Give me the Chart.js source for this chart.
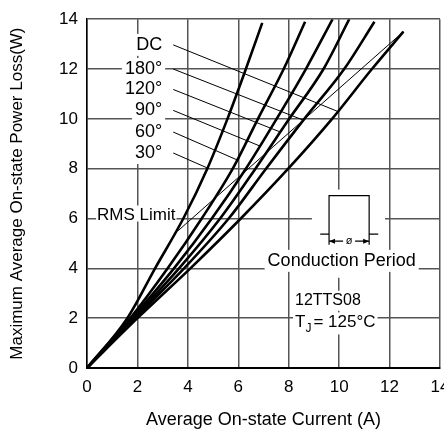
<!DOCTYPE html>
<html>
<head>
<meta charset="utf-8">
<script src="https://cdn.jsdelivr.net/npm/chart.js@4.4.0/dist/chart.umd.min.js"></script>
<style>
  html, body { margin: 0; padding: 0; background: #fff; }
  #wrap { width: 444px; height: 435px; }
</style>
</head>
<body>
<div id="wrap"><canvas id="lossChart" width="444" height="435"></canvas></div>
<script>
// curves: average current (A) -> power loss (W)
const curveNames = ['30°', '60°', '90°', '120°', '180°', 'DC'];

const current30  = [0, 1.6, 2.7, 3.82, 4.77, 5.57, 6.3, 6.95];
const loss30     = [0, 2, 4, 6, 8, 10, 12, 13.85];
const current60  = [0, 1.72, 3.2, 4.55, 5.78, 6.78, 7.8, 8.65];
const loss60     = [0, 2, 4, 6, 8, 10, 12, 13.9];
const current90  = [0, 1.78, 3.45, 4.95, 6.3, 7.52, 8.68, 9.74];
const loss90     = [0, 2, 4, 6, 8, 10, 12, 14];
const current120 = [0, 1.84, 3.65, 5.28, 6.68, 8.02, 9.38, 10.4];
const loss120    = [0, 2, 4, 6, 8, 10, 12, 14];
const current180 = [0, 1.9, 3.85, 5.62, 7.1, 8.62, 10.2, 11.4];
const loss180    = [0, 2, 4, 6, 8, 10, 12, 13.9];
const currentDC  = [0, 2.0, 4.1, 6.1, 7.98, 9.72, 11.3, 12.55];
const lossDC     = [0, 2, 4, 6, 8, 10, 12, 13.5];

// RMS limit line
const currentRms = [3.6, 12.55];
const lossRms    = [5.5, 13.5];

// leader lines: label level -> point on the curve (same order as curveNames)
const labelLoss        = [8.63, 9.47, 10.34, 11.18, 12.0, 12.97];
const leaderEndCurrent = [4.77, 5.96, 6.88, 7.67, 8.6, 9.94];
const leaderEndLoss    = [8.03, 8.35, 8.9, 9.47, 9.94, 10.3];

// ticks
const xTicks = [0, 2, 4, 6, 8, 10, 12, 14];
const yTicks = [0, 2, 4, 6, 8, 10, 12, 14];

const FONT = "'Liberation Sans', Arial, sans-serif";

const series = [
  [current30, loss30], [current60, loss60], [current90, loss90],
  [current120, loss120], [current180, loss180], [currentDC, lossDC]
];

const toPoints = (xs, ys) => xs.map((x, i) => ({ x: x, y: ys[i] }));

const datasets = [];
series.forEach(([xs, ys], i) => {
  datasets.push({
    label: curveNames[i],
    data: toPoints(xs, ys),
    showLine: true,
    borderColor: '#000',
    borderWidth: 2.6,
    pointRadius: 0,
    cubicInterpolationMode: 'monotone'
  });
});

// thin leader lines from the labels to their curves
const leaderStart = 3.42;
curveNames.forEach((name, i) => {
  datasets.push({
    label: name + ' leader',
    data: [{ x: leaderStart, y: labelLoss[i] }, { x: leaderEndCurrent[i], y: leaderEndLoss[i] }],
    showLine: true,
    borderColor: '#000',
    borderWidth: 1,
    pointRadius: 0
  });
});

datasets.push({
  label: 'RMS Limit',
  data: toPoints(currentRms, lossRms),
  showLine: true,
  borderColor: '#000',
  borderWidth: 1,
  pointRadius: 0
});

// text + inset drawn on top of the grid, under the curves
const notesPlugin = {
  id: 'notes',
  beforeDatasetsDraw(chart) {
    const ctx = chart.ctx;
    const xs = chart.scales.x, ys = chart.scales.y;
    const px = v => xs.getPixelForValue(v);
    const py = v => ys.getPixelForValue(v);
    ctx.save();

    // curve labels
    ctx.font = '18px ' + FONT;
    ctx.textAlign = 'right';
    ctx.textBaseline = 'middle';
    curveNames.forEach((name, i) => {
      const x = px(2.98), y = py(labelLoss[i]);
      const w = ctx.measureText(name).width;
      ctx.fillStyle = '#fff';
      ctx.fillRect(x - w - 3, y - 11, w + 6, 22);
      ctx.fillStyle = '#000';
      ctx.fillText(name, x, y);
    });

    // RMS Limit
    ctx.textAlign = 'left';
    ctx.textBaseline = 'alphabetic';
    ctx.font = '17px ' + FONT;
    let t = 'RMS Limit';
    let tx = px(0.4), ty = py(6) + 1;
    let w = ctx.measureText(t).width;
    ctx.fillStyle = '#fff';
    ctx.fillRect(tx - 1, ty - 14, w + 2, 16);
    ctx.fillStyle = '#000';
    ctx.fillText(t, tx, ty);

    // conduction period inset
    ctx.fillStyle = '#fff';
    ctx.fillRect(px(8.92), py(7.16), px(11.82) - px(8.92), py(3.62) - py(7.16));
    ctx.font = '18px ' + FONT;
    t = 'Conduction Period';
    w = ctx.measureText(t).width;
    const cx = px(10.1), cy = py(4.3);
    ctx.fillRect(cx - w / 2 - 3, cy - 11, w + 6, 22);

    ctx.strokeStyle = '#000';
    ctx.lineWidth = 1.2;
    const pl = px(9.6), pr = px(11.19), bl = px(9.25), br = px(11.55);
    const top = py(6.92), base = py(5.37), arr = py(5.09), tickEnd = py(4.95);
    ctx.beginPath();
    ctx.moveTo(bl, base); ctx.lineTo(pl, base);
    ctx.moveTo(pl, tickEnd); ctx.lineTo(pl, top); ctx.lineTo(pr, top); ctx.lineTo(pr, tickEnd);
    ctx.moveTo(pr, base); ctx.lineTo(br, base);
    ctx.moveTo(pl, arr); ctx.lineTo(pr, arr);
    ctx.stroke();
    // arrow heads
    ctx.fillStyle = '#000';
    ctx.beginPath();
    ctx.moveTo(pl, arr); ctx.lineTo(pl + 6, arr - 2.5); ctx.lineTo(pl + 6, arr + 2.5); ctx.closePath();
    ctx.moveTo(pr, arr); ctx.lineTo(pr - 6, arr - 2.5); ctx.lineTo(pr - 6, arr + 2.5); ctx.closePath();
    ctx.fill();
    ctx.font = '11px ' + FONT;
    ctx.textAlign = 'center';
    ctx.textBaseline = 'middle';
    const mid = (pl + pr) / 2;
    ctx.fillStyle = '#fff';
    ctx.fillRect(mid - 6, arr - 6, 12, 12);
    ctx.fillStyle = '#000';
    ctx.fillText('ø', mid, arr);

    ctx.font = '18px ' + FONT;
    ctx.fillText(t, cx, cy);

    // part number and junction temperature
    ctx.textAlign = 'left';
    ctx.font = '16px ' + FONT;
    t = '12TTS08';
    tx = px(8.25); ty = py(2.7);
    w = ctx.measureText(t).width;
    ctx.fillStyle = '#fff';
    ctx.fillRect(tx - 2, ty - 10, w + 4, 20);
    ctx.fillStyle = '#000';
    ctx.fillText(t, tx, ty);

    ty = py(1.83);
    ctx.font = '17px ' + FONT;
    const wT = ctx.measureText('T').width;
    ctx.font = '12px ' + FONT;
    const wJ = ctx.measureText('J').width;
    ctx.font = '17px ' + FONT;
    const rest = '= 125°C';
    const wR = ctx.measureText(rest).width;
    ctx.fillStyle = '#fff';
    ctx.fillRect(tx - 2, ty - 10, wT + wJ + wR + 6, 22);
    ctx.fillStyle = '#000';
    ctx.fillText('T', tx, ty);
    ctx.font = '12px ' + FONT;
    ctx.fillText('J', tx + wT, ty + 6);
    ctx.font = '17px ' + FONT;
    ctx.fillText(rest, tx + wT + wJ + 2, ty);

    ctx.restore();
  }
};

new Chart(document.getElementById('lossChart'), {
  type: 'scatter',
  data: { datasets: datasets },
  options: {
    responsive: false,
    animation: false,
    layout: { padding: { top: 16, right: 4, left: 0, bottom: 0 } },
    plugins: { legend: { display: false }, tooltip: { enabled: false } },
    scales: {
      x: {
        type: 'linear',
        min: 0,
        max: 14,
        afterBuildTicks: s => { s.ticks = xTicks.map(v => ({ value: v })); },
        afterFit: s => { s.height = 67; s.paddingLeft = 0; s.paddingRight = 0; },
        ticks: { color: '#000', font: { family: FONT, size: 17 }, padding: 9, maxRotation: 0 },
        grid: { color: '#555', lineWidth: 1.5, drawTicks: false },
        border: { color: '#000', width: 2 },
        title: {
          display: true,
          text: 'Average On-state Current (A)',
          color: '#000',
          font: { family: FONT, size: 18 },
          padding: { top: 0, bottom: 4 }
        }
      },
      y: {
        type: 'linear',
        min: 0,
        max: 14,
        afterBuildTicks: s => { s.ticks = yTicks.map(v => ({ value: v })); },
        afterFit: s => { s.width = 87; },
        ticks: { color: '#000', font: { family: FONT, size: 17 }, padding: 9 },
        grid: { color: '#555', lineWidth: 1.5, drawTicks: false },
        border: { color: '#000', width: 1.5 },
        title: {
          display: true,
          text: 'Maximum Average On-state Power Loss(W)',
          color: '#000',
          font: { family: FONT, size: 17 },
          padding: { top: 7, bottom: 0 }
        }
      }
    }
  },
  plugins: [notesPlugin]
});
</script>
</body>
</html>
